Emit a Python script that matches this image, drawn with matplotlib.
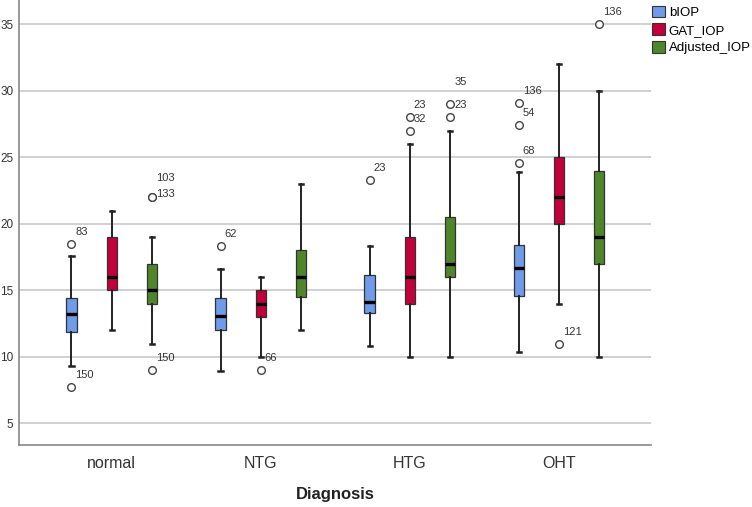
import matplotlib
matplotlib.use("Agg")
import matplotlib.pyplot as plt
from matplotlib.patches import Patch

plt.rcParams['font.family'] = ['Liberation Sans', 'DejaVu Sans']

categories = ['normal', 'NTG', 'HTG', 'OHT']
series = ['bIOP', 'GAT_IOP', 'Adjusted_IOP']
colors = ['#6f9be8', '#c3003c', '#4f862c']

# five-number summaries per category: (whisker low, Q1, median, Q3, whisker high)
biop = [(9.3, 11.9, 13.2, 14.4, 17.6),
        (8.9, 12.0, 13.1, 14.4, 16.6),
        (10.8, 13.3, 14.1, 16.15, 18.3),
        (10.4, 14.6, 16.7, 18.4, 23.9)]
gat_iop = [(12, 15, 16, 19, 21),
           (10, 13, 14, 15, 16),
           (10, 14, 16, 19, 26),
           (14, 20, 22, 25, 32)]
adjusted_iop = [(11, 14, 15, 17, 19),
                (12, 14.5, 16, 18, 23),
                (10, 16, 17, 20.5, 27),
                (10, 17, 19, 24, 30)]

# outliers: (value, case id)
biop_out = [[(18.5, '83'), (7.7, '150')],
            [(18.3, '62')],
            [(23.3, '23')],
            [(29.1, '136'), (27.4, '54'), (24.6, '68')]]
gat_out = [[],
           [(9, '66')],
           [(28, '23'), (27, '32')],
           [(11, '121')]]
adj_out = [[(22, '103'), (22, '133'), (9, '150')],
           [],
           [(29, '35'), (28, '23')],
           [(35, '136')]]

# label nudges (pixels up) where SPSS stacked overlapping labels
label_dy = {(0, 2, '103'): 19, (0, 2, '133'): 3, (2, 2, '35'): 22}

summaries = [biop, gat_iop, adjusted_iop]
outliers = [biop_out, gat_out, adj_out]

fig = plt.figure(figsize=(7.52, 5.07), dpi=100)
ax = fig.add_axes([19 / 752, 1 - 445 / 507, (651 - 19) / 752, 445 / 507])

offsets = [-0.27, 0.0, 0.27]
for s in range(3):
    stats = []
    for c in range(4):
        lo, q1, med, q3, hi = summaries[s][c]
        stats.append(dict(whislo=lo, q1=q1, med=med, q3=q3, whishi=hi,
                          fliers=[v for v, _ in outliers[s][c]]))
    pos = [c + offsets[s] for c in range(4)]
    ax.bxp(stats, positions=pos, widths=0.07, capwidths=0.028,
           patch_artist=True, showfliers=True,
           boxprops=dict(facecolor=colors[s], edgecolor='#333333', linewidth=0.9),
           medianprops=dict(color='black', linewidth=2.4),
           whiskerprops=dict(color='#222222', linewidth=1.4),
           capprops=dict(color='#222222', linewidth=1.8),
           flierprops=dict(marker='o', markersize=5.5, markerfacecolor='white',
                           markeredgecolor='#444444', markeredgewidth=1.0),
           zorder=3)
    for c in range(4):
        for v, lab in outliers[s][c]:
            dy = label_dy.get((c, s, lab), 12)
            ax.annotate(lab, (c + offsets[s], v), xytext=(4, dy),
                        textcoords='offset pixels', ha='left', va='center',
                        fontsize=8, color='#333333', zorder=4)

ax.set_xlim(-0.622, 3.617)
ax.set_ylim(3.37, 36.83)
ax.set_yticks([5, 10, 15, 20, 25, 30, 35])
ax.set_xticks(range(4))
ax.set_xticklabels(categories, fontsize=11.5, color='#333333')
ax.tick_params(axis='x', length=0, pad=8)
ax.tick_params(axis='y', length=0, pad=4, labelsize=8.5, labelcolor='#333333')
ax.yaxis.grid(True, color='#c8c8c8', linewidth=1.2, zorder=0)
ax.set_axisbelow(True)
for side in ['top', 'right']:
    ax.spines[side].set_visible(False)
for side in ['left', 'bottom']:
    ax.spines[side].set_color('#888888')
    ax.spines[side].set_linewidth(1.2)

fig.text(335 / 752, 1 - 495 / 507, 'Diagnosis', ha='center', va='center',
         fontsize=12, fontweight='bold', color='#222222')

handles = [Patch(facecolor=colors[i], edgecolor='#333333', linewidth=0.8,
                 label=series[i]) for i in range(3)]
fig.legend(handles=handles, loc='upper left',
           bbox_to_anchor=(649 / 752, 1 - 3 / 507),
           frameon=False, fontsize=9.5, handlelength=1.0, handleheight=1.0,
           handletextpad=0.3, labelspacing=0.32, borderpad=0.2,
           borderaxespad=0.0)

fig.savefig('out.png', dpi=100)
